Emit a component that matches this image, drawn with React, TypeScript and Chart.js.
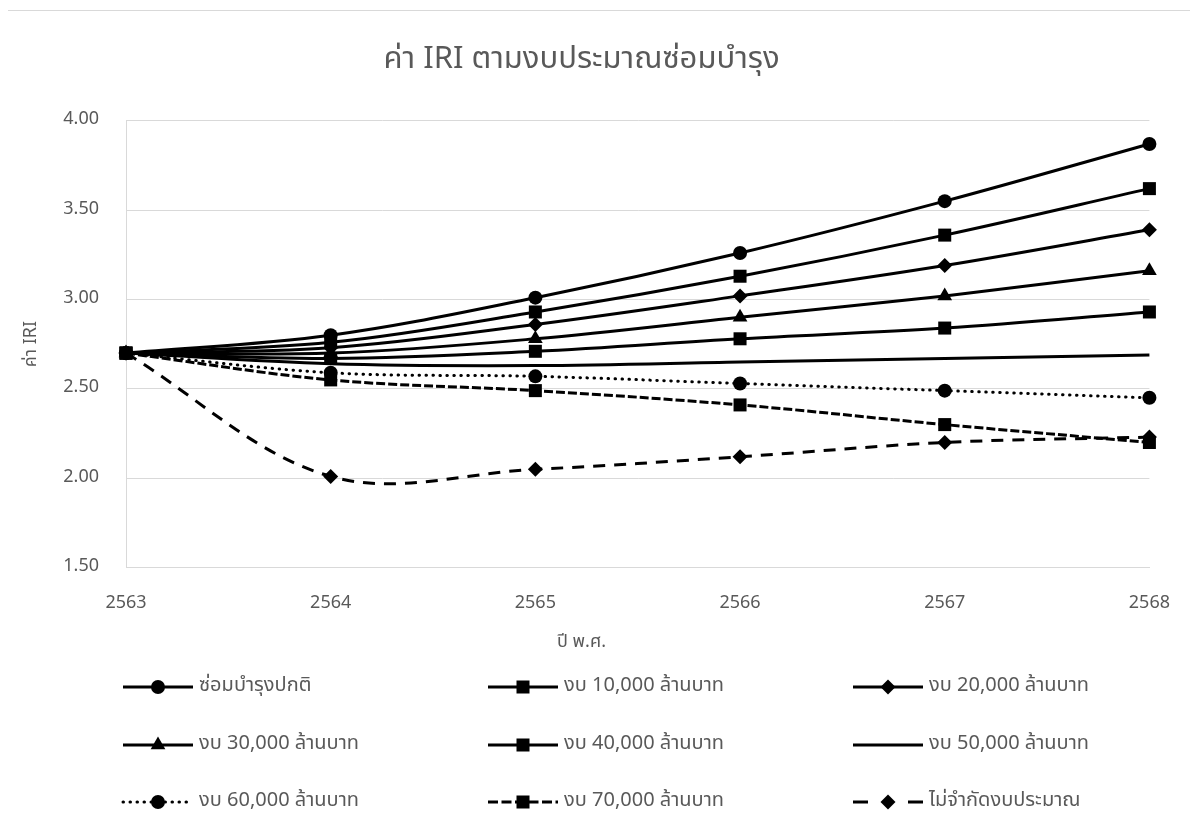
import React, { useEffect, useRef } from 'react';
import { Chart, registerables } from 'chart.js';

Chart.register(...registerables);

// ---------- data ----------
const YEARS = ['2563', '2564', '2565', '2566', '2567', '2568'];

const SERIES_LABELS = [
  'ซ่อมบำรุงปกติ',
  'งบ 10,000 ล้านบาท',
  'งบ 20,000 ล้านบาท',
  'งบ 30,000 ล้านบาท',
  'งบ 40,000 ล้านบาท',
  'งบ 50,000 ล้านบาท',
  'งบ 60,000 ล้านบาท',
  'งบ 70,000 ล้านบาท',
  'ไม่จำกัดงบประมาณ',
];

const NORMAL = [2.7, 2.8, 3.01, 3.26, 3.55, 3.87];
const BUDGET_10K = [2.7, 2.76, 2.93, 3.13, 3.36, 3.62];
const BUDGET_20K = [2.7, 2.73, 2.86, 3.02, 3.19, 3.39];
const BUDGET_30K = [2.7, 2.7, 2.78, 2.9, 3.02, 3.16];
const BUDGET_40K = [2.7, 2.67, 2.71, 2.78, 2.84, 2.93];
const BUDGET_50K = [2.7, 2.64, 2.63, 2.65, 2.67, 2.69];
const BUDGET_60K = [2.7, 2.59, 2.57, 2.53, 2.49, 2.45];
const BUDGET_70K = [2.7, 2.55, 2.49, 2.41, 2.3, 2.2];
const UNLIMITED = [2.7, 2.01, 2.05, 2.12, 2.2, 2.23];

const SERIES_VALUES = [
  NORMAL, BUDGET_10K, BUDGET_20K, BUDGET_30K, BUDGET_40K,
  BUDGET_50K, BUDGET_60K, BUDGET_70K, UNLIMITED,
];

const Y_MIN = 1.5;
const Y_MAX = 4.0;
const Y_STEP = 0.5;

const TITLE = 'ค่า IRI ตามงบประมาณซ่อมบำรุง';
const Y_TITLE = 'ค่า IRI';
const X_TITLE = 'ปี พ.ศ.';

// ---------- styles ----------
const FONT = "'Leelawadee UI', Tahoma, 'Noto Sans Thai', 'Noto Sans', sans-serif";
const TEXT = '#595959';
const GRID = '#d9d9d9';
const INK = '#000000';

type Style = { shape: string; r: number; dash: number[]; legendDash: number[]; cap: CanvasLineCap };
const STYLES: Style[] = [
  { shape: 'circle', r: 7, dash: [], legendDash: [], cap: 'butt' },
  { shape: 'rect', r: 9.2, dash: [], legendDash: [], cap: 'butt' },
  { shape: 'rectRot', r: 7.5, dash: [], legendDash: [], cap: 'butt' },
  { shape: 'triangle', r: 8.5, dash: [], legendDash: [], cap: 'butt' },
  { shape: 'rect', r: 9.2, dash: [], legendDash: [], cap: 'butt' },
  { shape: 'circle', r: 0, dash: [], legendDash: [], cap: 'butt' },
  { shape: 'circle', r: 7, dash: [0.5, 6.5], legendDash: [0.5, 6.5], cap: 'round' },
  { shape: 'rect', r: 9.2, dash: [9, 3], legendDash: [10, 3.5], cap: 'butt' },
  { shape: 'rectRot', r: 7.5, dash: [12, 9], legendDash: [15, 40, 15], cap: 'butt' },
];

const CANVAS_W = 1188;
const CANVAS_H = 815;
const LEGEND_COL_X = [115, 480, 845];
const LEGEND_ROW_Y = [676, 734, 791];
const LEGEND_LINE = 70;

function drawMarker(ctx: CanvasRenderingContext2D, shape: string, x: number, y: number, r: number) {
  if (r <= 0) return;
  ctx.beginPath();
  if (shape === 'circle') {
    ctx.arc(x, y, r, 0, Math.PI * 2);
  } else if (shape === 'rect') {
    const s = Math.SQRT1_2 * r;
    ctx.rect(x - s, y - s, 2 * s, 2 * s);
  } else if (shape === 'rectRot') {
    ctx.moveTo(x - r, y);
    ctx.lineTo(x, y - r);
    ctx.lineTo(x + r, y);
    ctx.lineTo(x, y + r);
    ctx.closePath();
  } else if (shape === 'triangle') {
    let a = 0;
    ctx.moveTo(x + Math.sin(a) * r, y - Math.cos(a) * r);
    a += (2 * Math.PI) / 3;
    ctx.lineTo(x + Math.sin(a) * r, y - Math.cos(a) * r);
    a += (2 * Math.PI) / 3;
    ctx.lineTo(x + Math.sin(a) * r, y - Math.cos(a) * r);
    ctx.closePath();
  }
  ctx.fill();
}

const excelLegend = {
  id: 'excelLegend',
  afterDraw(chart: any) {
    const ctx: CanvasRenderingContext2D = chart.ctx;
    ctx.save();
    chart.data.datasets.forEach((ds: any, i: number) => {
      const st = STYLES[i];
      const x0 = LEGEND_COL_X[i % 3];
      const y = LEGEND_ROW_Y[Math.floor(i / 3)];
      ctx.strokeStyle = INK;
      ctx.fillStyle = INK;
      ctx.lineWidth = 3;
      ctx.lineCap = st.cap;
      ctx.setLineDash(st.legendDash);
      ctx.beginPath();
      ctx.moveTo(x0, y);
      ctx.lineTo(x0 + LEGEND_LINE, y);
      ctx.stroke();
      ctx.setLineDash([]);
      drawMarker(ctx, st.shape, x0 + LEGEND_LINE / 2, y, st.r);
      ctx.fillStyle = TEXT;
      ctx.font = `20px ${FONT}`;
      ctx.textAlign = 'left';
      ctx.textBaseline = 'middle';
      ctx.fillText(ds.label, x0 + LEGEND_LINE + 6, y);
    });
    ctx.restore();
  },
};

export default function App() {
  const canvasRef = useRef<HTMLCanvasElement | null>(null);

  useEffect(() => {
    document.documentElement.style.overflow = 'hidden';
    document.body.style.overflow = 'hidden';
    const canvas = canvasRef.current;
    if (!canvas) return;

    const datasets = SERIES_VALUES.map((vals, i) => {
      const st = STYLES[i];
      return {
        label: SERIES_LABELS[i],
        data: vals,
        borderColor: INK,
        backgroundColor: INK,
        borderWidth: 3,
        borderDash: st.dash,
        borderCapStyle: st.cap,
        tension: 0.35,
        fill: false,
        pointStyle: st.shape,
        pointRadius: st.r,
        pointHoverRadius: st.r,
        pointBackgroundColor: INK,
        pointBorderColor: INK,
        pointBorderWidth: 0,
        clip: false as any,
        order: SERIES_VALUES.length - i,
      };
    });

    const chart = new Chart(canvas, {
      type: 'line',
      data: { labels: YEARS, datasets: datasets as any },
      plugins: [excelLegend],
      options: {
        animation: false,
        responsive: false,
        maintainAspectRatio: false,
        devicePixelRatio: 1,
        layout: { padding: { left: 0, right: 41, top: 0, bottom: 172 } },
        plugins: {
          legend: { display: false },
          tooltip: { enabled: false },
          title: {
            display: true,
            text: TITLE,
            color: TEXT,
            font: { family: FONT, size: 31, weight: 'normal' },
            padding: { top: 32, bottom: 40.5 },
          },
          subtitle: {
            display: true,
            position: 'bottom',
            text: X_TITLE,
            color: TEXT,
            font: { family: FONT, size: 18, weight: 'normal' },
            padding: { top: 18, bottom: 0 },
          },
        },
        scales: {
          x: {
            type: 'category',
            offset: false,
            grid: { display: false, drawTicks: false },
            border: { display: true, color: GRID, width: 1 },
            ticks: {
              color: TEXT,
              font: { family: FONT, size: 18 },
              padding: 26,
              maxRotation: 0,
              autoSkip: false,
            },
            afterFit: (scale: any) => {
              scale.height = 46.8;
            },
          },
          y: {
            type: 'linear',
            min: Y_MIN,
            max: Y_MAX,
            grid: { color: GRID, lineWidth: 1, drawTicks: false },
            border: { display: true, color: GRID, width: 1 },
            ticks: {
              stepSize: Y_STEP,
              color: TEXT,
              font: { family: FONT, size: 18 },
              padding: 27,
              callback: (v: any) => Number(v).toFixed(2),
            },
            title: {
              display: true,
              text: Y_TITLE,
              color: TEXT,
              font: { family: FONT, size: 18, weight: 'normal' },
              padding: { top: 14, bottom: 0 },
            },
            afterFit: (scale: any) => {
              scale.width = 118;
            },
          },
        },
      } as any,
    });

    return () => chart.destroy();
  }, []);

  return (
    <div style={{ paddingTop: 2, marginLeft: -1 }}>
      <div
        style={{
          borderLeft: `1px solid ${GRID}`,
          borderTop: `1px solid ${GRID}`,
          width: CANVAS_W,
          height: CANVAS_H,
          background: '#fff',
        }}
      >
        <canvas
          ref={canvasRef}
          width={CANVAS_W}
          height={CANVAS_H}
          style={{ display: 'block', width: CANVAS_W, height: CANVAS_H }}
        />
      </div>
    </div>
  );
}
